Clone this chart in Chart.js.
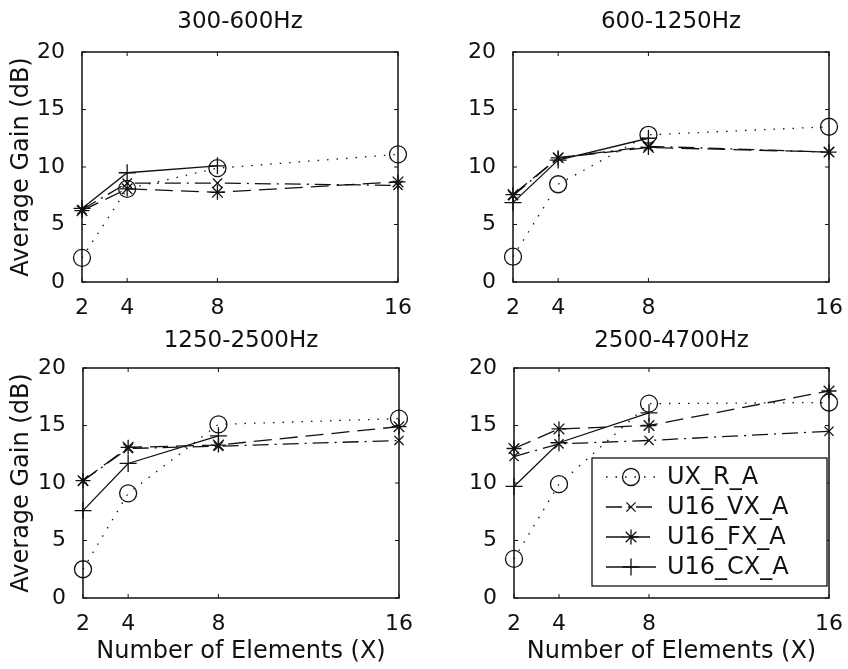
<!DOCTYPE html>
<html>
<head>
<meta charset="utf-8">
<script src="https://cdn.jsdelivr.net/npm/chart.js@4.4.0/dist/chart.umd.min.js"></script>
<style>
  html, body { margin: 0; padding: 0; background: #fff; }
  #wrap { position: relative; width: 848px; height: 669px; overflow: hidden; background: #fff; }
  canvas { position: absolute; }
</style>
</head>
<body>
<div id="wrap">
  <canvas id="c1" width="424" height="334" style="left:0;top:0"></canvas>
  <canvas id="c2" width="424" height="334" style="left:424px;top:0"></canvas>
  <canvas id="c3" width="424" height="345" style="left:0;top:324px"></canvas>
  <canvas id="c4" width="424" height="345" style="left:424px;top:324px"></canvas>
</div>
<script>
// x = number of elements, one row per frequency band
const elements = [2, 4, 8, 16];
const xTicks = [2, 4, 8, 16];
const bandTitles = ["300-600Hz", "600-1250Hz", "1250-2500Hz", "2500-4700Hz"];
const seriesNames = ["UX_R_A", "U16_VX_A", "U16_FX_A", "U16_CX_A"];

const uxR = [
  [2.1, 8.1, 9.9, 11.1],
  [2.2, 8.5, 12.8, 13.5],
  [2.5, 9.1, 15.1, 15.6],
  [3.4, 9.9, 16.9, 17.0]
];
const u16VX = [
  [6.3, 8.6, 8.6, 8.4],
  [7.5, 10.8, 11.8, 11.3],
  [10.2, 13.0, 13.2, 13.7],
  [12.3, 13.4, 13.7, 14.5]
];
const u16FX = [
  [6.2, 8.1, 7.8, 8.7],
  [7.6, 10.8, 11.7, 11.3],
  [10.2, 13.1, 13.3, 14.9],
  [13.0, 14.7, 15.0, 18.0]
];
const u16CX = [
  [6.4, 9.5, 10.1, null],
  [6.9, 10.6, 12.5, null],
  [7.6, 11.7, 14.1, null],
  [9.7, 13.5, 16.1, null]
];
const allSeries = [uxR, u16VX, u16FX, u16CX];

const FONT = "DejaVu Sans";
const INK = "#111";

const lineStyles = [
  { pointStyle: "circle", radius: 8.5, dash: [1.5, 8] },
  { pointStyle: "crossRot", radius: 6.5, dash: [16, 6, 2, 6] },
  { pointStyle: "star", radius: 7.5, dash: [18, 8] },
  { pointStyle: "cross", radius: 8.5, dash: [] }
];

// panel geometry (canvas px)
const panels = [
  { id: "c1", yWidth: 82, right: 26, xHeight: 52, tTop: 8, tBot: 16.4, yTitle: true, xTitle: false, legend: false },
  { id: "c2", yWidth: 89, right: 19, xHeight: 52, tTop: 8, tBot: 16.4, yTitle: false, xTitle: false, legend: false },
  { id: "c3", yWidth: 83, right: 25, xHeight: 71, tTop: 3, tBot: 13.4, yTitle: true, xTitle: true, legend: false },
  { id: "c4", yWidth: 90, right: 18, xHeight: 71, tTop: 3, tBot: 13.4, yTitle: false, xTitle: true, legend: true }
];

// box with inward ticks on all four sides
const matlabBox = {
  id: "matlabBox",
  beforeDatasetsDraw(chart) {
    const { ctx, chartArea: a, scales: { x, y } } = chart;
    ctx.save();
    ctx.strokeStyle = INK;
    ctx.lineWidth = 1.5;
    ctx.strokeRect(a.left, a.top, a.right - a.left, a.bottom - a.top);
    ctx.lineWidth = 1;
    ctx.beginPath();
    x.ticks.forEach(t => {
      const px = x.getPixelForValue(t.value);
      ctx.moveTo(px, a.bottom); ctx.lineTo(px, a.bottom - 4);
      ctx.moveTo(px, a.top); ctx.lineTo(px, a.top + 4);
    });
    y.ticks.forEach(t => {
      const py = y.getPixelForValue(t.value);
      ctx.moveTo(a.left, py); ctx.lineTo(a.left + 4, py);
      ctx.moveTo(a.right, py); ctx.lineTo(a.right - 4, py);
    });
    ctx.stroke();
    ctx.restore();
  }
};

// legend box drawn inside the plot area
const insideLegend = {
  id: "insideLegend",
  afterDraw(chart, args, opts) {
    if (!opts.show) return;
    const { ctx, chartArea } = chart;
    const w = 235, h = 128;
    const left = chartArea.right - 237;
    const top = chartArea.top + 90;
    ctx.save();
    ctx.fillStyle = "#fff";
    ctx.fillRect(left, top, w, h);
    ctx.strokeStyle = INK;
    ctx.lineWidth = 1.3;
    ctx.strokeRect(left, top, w, h);
    chart.data.datasets.forEach((ds, i) => {
      const y = top + 19 + i * 30;
      ctx.strokeStyle = INK;
      ctx.lineWidth = ds.borderWidth;
      ctx.setLineDash(ds.borderDash);
      ctx.beginPath();
      ctx.moveTo(left + 14, y);
      ctx.lineTo(left + 64, y);
      ctx.stroke();
      ctx.setLineDash([]);
      ctx.fillStyle = "rgba(0,0,0,0)";
      Chart.helpers.drawPoint(ctx, {
        pointStyle: ds.pointStyle, radius: ds.pointRadius, rotation: 0, borderWidth: ds.pointBorderWidth
      }, left + 39, y);
      ctx.fillStyle = INK;
      ctx.font = "24px '" + FONT + "'";
      ctx.textBaseline = "middle";
      ctx.textAlign = "left";
      ctx.fillText(ds.label, left + 75, y + 1);
    });
    ctx.restore();
  }
};

panels.forEach((p, k) => {
  const datasets = seriesNames.map((name, s) => ({
    label: name,
    data: elements.map((x, j) => ({ x: x, y: allSeries[s][k][j] })),
    borderColor: INK,
    backgroundColor: "rgba(0,0,0,0)",
    borderWidth: 1.3,
    borderDash: lineStyles[s].dash,
    pointStyle: lineStyles[s].pointStyle,
    pointRadius: lineStyles[s].radius,
    pointBorderWidth: 1.3,
    pointBorderColor: INK,
    pointBackgroundColor: "rgba(0,0,0,0)",
    tension: 0,
    spanGaps: false,
    clip: false
  }));

  new Chart(document.getElementById(p.id), {
    type: "line",
    data: { datasets: datasets },
    options: {
      responsive: false,
      animation: false,
      layout: { padding: { top: 0, left: 0, right: p.right, bottom: 0 } },
      plugins: {
        legend: { display: false },
        tooltip: { enabled: false },
        title: {
          display: true,
          fullSize: false,
          text: bandTitles[k],
          color: INK,
          font: { family: FONT, size: 23, weight: "normal" },
          padding: { top: p.tTop, bottom: p.tBot }
        },
        insideLegend: { show: p.legend }
      },
      scales: {
        x: {
          type: "linear",
          min: 2,
          max: 16,
          grid: { display: false },
          border: { display: false },
          afterBuildTicks: scale => { scale.ticks = xTicks.map(v => ({ value: v })); },
          afterFit: scale => { scale.height = p.xHeight; },
          ticks: {
            color: INK,
            padding: 5,
            maxRotation: 0,
            autoSkip: false,
            font: { family: FONT, size: 22 }
          },
          title: {
            display: p.xTitle,
            text: "Number of Elements (X)",
            color: INK,
            font: { family: FONT, size: 24 },
            padding: { top: 0, bottom: 3 }
          }
        },
        y: {
          min: 0,
          max: 20,
          grid: { display: false },
          border: { display: false },
          afterFit: scale => { scale.width = p.yWidth; },
          ticks: {
            stepSize: 5,
            color: INK,
            padding: 9,
            font: { family: FONT, size: 22 }
          },
          title: {
            display: p.yTitle,
            text: "Average Gain (dB)",
            color: INK,
            font: { family: FONT, size: 24 },
            padding: { top: 7.5, bottom: 0 }
          }
        }
      }
    },
    plugins: [matlabBox, insideLegend]
  });
});
</script>
</body>
</html>
